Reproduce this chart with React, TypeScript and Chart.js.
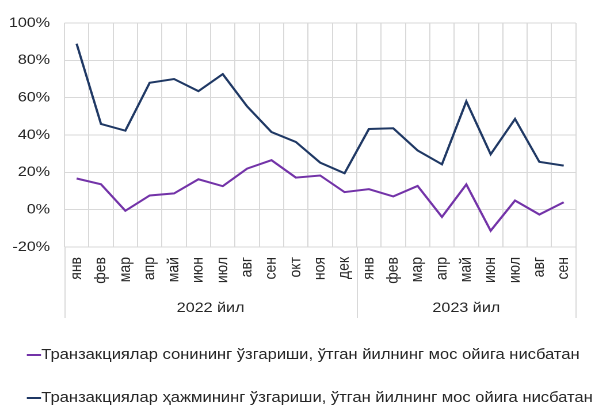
import React, { useEffect, useRef } from 'react';
import { Chart, registerables } from 'chart.js';

Chart.register(...registerables);

const months = ['янв', 'фев', 'мар', 'апр', 'май', 'июн', 'июл', 'авг', 'сен', 'окт', 'ноя', 'дек',
  'янв', 'фев', 'мар', 'апр', 'май', 'июн', 'июл', 'авг', 'сен'];
const years = ['2022 йил', '2023 йил'];
const yearSpans = [12, 9];
const countChange = [16.7, 13.6, -0.6, 7.6, 8.7, 16.3, 12.6, 22.0, 26.5, 17.2, 18.3, 9.4,
  11.0, 7.1, 12.7, -3.9, 13.5, -11.3, 4.9, -2.6, 4.0];
const volumeChange = [88.9, 45.9, 42.3, 68.0, 70.0, 63.5, 72.6, 55.3, 41.6, 36.3, 25.2, 19.5,
  43.2, 43.6, 31.7, 24.3, 58.0, 29.7, 48.6, 25.6, 23.6];
const yMin = -20;
const yMax = 100;
const yStep = 20;
const seriesLabels = [
  'Транзакциялар сонининг ўзгариши, ўтган йилнинг мос ойига нисбатан',
  'Транзакциялар ҳажмининг ўзгариши, ўтган йилнинг мос ойига нисбатан',
];
const seriesColors = ['#7333A8', '#1F3864'];

const GRID = '#D9D9D9';
const TEXT = '#262626';
const FONT_FAMILY = '"Liberation Sans", Arial, sans-serif';

// the reference is horizontally stretched; draw at a narrower logical width and stretch
const OUT_W = 595;
const OUT_H = 406;
const LOGICAL_W = 517;
const STRETCH = OUT_W / LOGICAL_W;

const groupPlugin = {
  id: 'groupAndLegend',
  afterDraw(chart: any) {
    const { ctx, chartArea } = chart;
    const xs = chart.scales.x;
    ctx.save();
    const bounds: number[] = [-0.5];
    let acc = 0;
    yearSpans.forEach((n) => { acc += n; bounds.push(acc - 0.5); });
    ctx.strokeStyle = GRID;
    ctx.lineWidth = 1;
    bounds.forEach((b) => {
      const px = Math.round(xs.getPixelForValue(b)) + 0.5;
      ctx.beginPath();
      ctx.moveTo(px, chartArea.bottom);
      ctx.lineTo(px, chartArea.bottom + 71);
      ctx.stroke();
    });
    ctx.fillStyle = TEXT;
    ctx.font = `14px ${FONT_FAMILY}`;
    ctx.textAlign = 'center';
    ctx.textBaseline = 'middle';
    years.forEach((y, i) => {
      const c = (xs.getPixelForValue(bounds[i]) + xs.getPixelForValue(bounds[i + 1])) / 2;
      ctx.fillText(y, c, chartArea.bottom + 61);
    });
    ctx.textAlign = 'left';
    ctx.font = `14.4px ${FONT_FAMILY}`;
    chart.data.datasets.forEach((ds: any, i: number) => {
      const y = 355 + i * 43;
      ctx.strokeStyle = ds.borderColor;
      ctx.lineWidth = 2;
      ctx.beginPath();
      ctx.moveTo(23.3, y);
      ctx.lineTo(35.6, y);
      ctx.stroke();
      ctx.fillStyle = TEXT;
      ctx.fillText(ds.label, 35.9, y);
    });
    ctx.restore();
  },
};

export default function App() {
  const ref = useRef<HTMLCanvasElement | null>(null);
  useEffect(() => {
    if (!ref.current) return;
    const chart = new Chart(ref.current, {
      type: 'line',
      data: {
        labels: months,
        datasets: [
          { label: seriesLabels[0], data: countChange, borderColor: seriesColors[0], backgroundColor: seriesColors[0] },
          { label: seriesLabels[1], data: volumeChange, borderColor: seriesColors[1], backgroundColor: seriesColors[1] },
        ],
      },
      options: {
        animation: false,
        responsive: true,
        maintainAspectRatio: false,
        devicePixelRatio: 2,
        layout: { padding: { top: 23, right: 16, bottom: 86, left: 0 } },
        plugins: { legend: { display: false }, tooltip: { enabled: false } },
        elements: { point: { radius: 0 }, line: { tension: 0, borderWidth: 2 } },
        scales: {
          x: {
            type: 'category',
            offset: true,
            grid: { offset: true, color: GRID, drawTicks: false },
            border: { display: false },
            ticks: {
              autoSkip: false, minRotation: 90, maxRotation: 90, padding: 10,
              color: TEXT, font: { family: FONT_FAMILY, size: 14 },
            },
            afterFit: (s: any) => { s.height = 73; },
          },
          y: {
            min: yMin,
            max: yMax,
            grid: { color: GRID, drawTicks: false },
            border: { display: false },
            ticks: {
              stepSize: yStep, padding: 12.5, color: TEXT,
              font: { family: FONT_FAMILY, size: 14 },
              callback: (v: any) => `${v}%`,
            },
            afterFit: (s: any) => { s.width = 56; },
          },
        },
      },
      plugins: [groupPlugin],
    });
    return () => chart.destroy();
  }, []);
  return (
    <div style={{ position: 'absolute', left: 0, top: 0, width: OUT_W, height: OUT_H, background: '#fff', overflow: 'hidden' }}>
      <div style={{ width: LOGICAL_W, height: OUT_H, transform: `scaleX(${STRETCH})`, transformOrigin: '0 0' }}>
        <canvas ref={ref} />
      </div>
    </div>
  );
}
